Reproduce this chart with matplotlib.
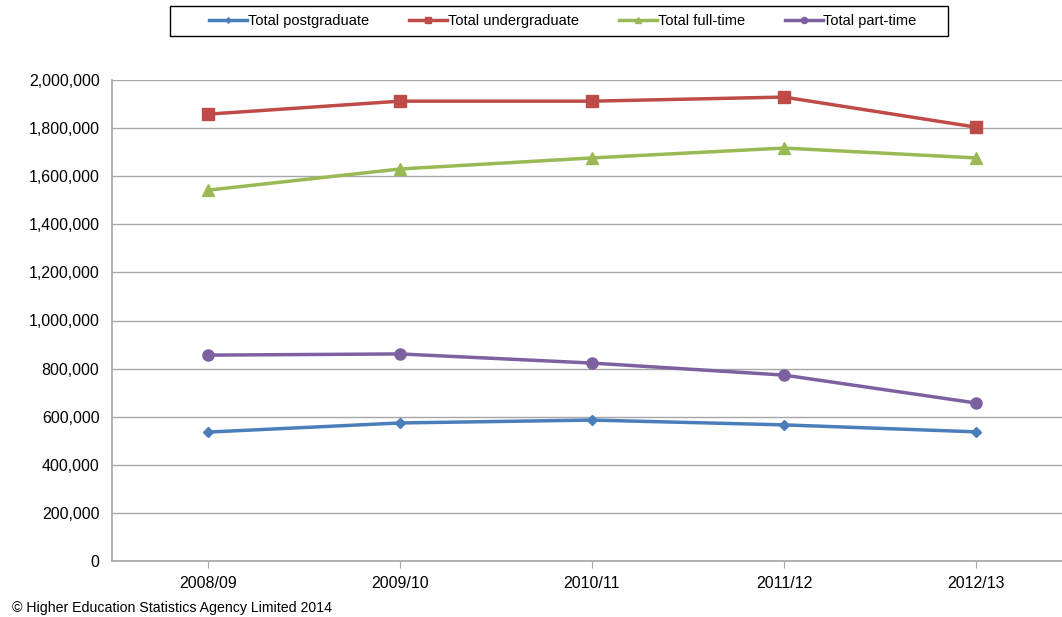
import numpy as np
import matplotlib
matplotlib.use('Agg')
import matplotlib.pyplot as plt
from matplotlib.patches import Rectangle
from matplotlib.ticker import FuncFormatter

plt.rcParams['font.family'] = ['Liberation Sans', 'DejaVu Sans']

years = ['2008/09', '2009/10', '2010/11', '2011/12', '2012/13']
postgraduate = [536000, 574000, 586000, 566000, 537000]
undergraduate = [1858000, 1912000, 1912000, 1929000, 1804000]
full_time = [1542000, 1630000, 1676000, 1717000, 1676000]
part_time = [856000, 861000, 823000, 773000, 657000]

series = [
    ('Total postgraduate', postgraduate, '#4A7EBB', 'D', 5),
    ('Total undergraduate', undergraduate, '#BE4B48', 's', 8),
    ('Total full-time', full_time, '#98B954', '^', 9),
    ('Total part-time', part_time, '#7D60A0', 'o', 8),
]

W, H = 1062, 617
fig = plt.figure(figsize=(W / 100, H / 100), dpi=100)
ax = fig.add_axes([112 / W, 1 - 561 / H, 960 / W, 481 / H])

x = np.arange(len(years))
for label, vals, color, marker, ms in series:
    ax.plot(x, vals, color=color, linewidth=2.5, marker=marker, markersize=ms,
            label=label, clip_on=False)

ax.set_xlim(-0.5, len(years) - 0.5)
ax.set_ylim(0, 2000000)
ax.set_yticks(np.arange(0, 2000001, 200000))
ax.yaxis.set_major_formatter(FuncFormatter(lambda v, p: f'{int(v):,}'))
ax.set_xticks(x)
ax.set_xticklabels(years)

ax.grid(axis='y', color='#A6A6A6', linewidth=1)
ax.set_axisbelow(True)
for s in ['top', 'right']:
    ax.spines[s].set_visible(False)
for s in ['left', 'bottom']:
    ax.spines[s].set_color('#A6A6A6')
    ax.spines[s].set_linewidth(1.2)
ax.tick_params(axis='y', length=0, labelsize=11.5, pad=9)
ax.tick_params(axis='x', length=5, color='#A6A6A6', labelsize=11.5, pad=6)

# legend box drawn by hand to get the wide Excel-style padding
fig.patches.append(Rectangle((170 / W, 1 - 36 / H), 778 / W, 30 / H,
                             transform=fig.transFigure, fill=False,
                             edgecolor='black', linewidth=1))
fig.legend(loc='center', bbox_to_anchor=(563 / W, 1 - 21 / H), ncol=4,
           frameon=False, fontsize=10.5, handlelength=2.6, handletextpad=0.05,
           columnspacing=2.75, markerscale=0.55)

fig.text(12 / W, 1 - 608 / H, '\u00a9 Higher Education Statistics Agency Limited 2014',
         fontsize=10.2, va='center', ha='left')

fig.savefig('out.png', dpi=100)
